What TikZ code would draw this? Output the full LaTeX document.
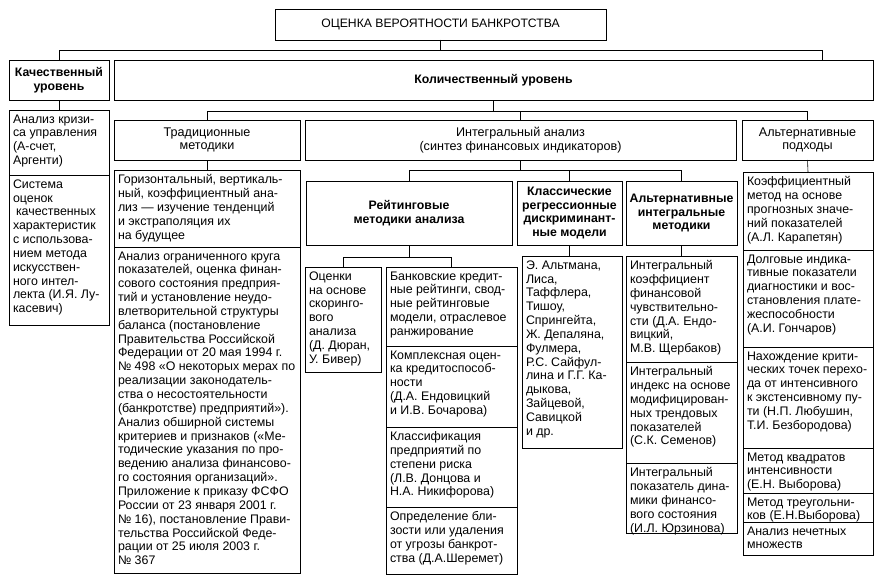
\documentclass[tikz,border=0pt]{standalone}
\usepackage{fontspec}
\setmainfont{Liberation Sans}
\usetikzlibrary{positioning}

% text of a cell: width and height of the cell in pt, text set from the top
\newcommand{\boxtext}[3]{\parbox[c][\dimexpr#2pt-9pt\relax][t]{\dimexpr#1pt-8pt\relax}{\raggedright #3}}

\begin{document}
\begin{tikzpicture}[
    x=1pt, y=-1pt,
    head/.style={draw, anchor=north west, align=center, inner sep=2pt, outer sep=0pt,
                 line width=0.8pt, font=\fontsize{12.6}{13.8}\selectfont},
    boldhead/.style={head, font=\fontsize{12.3}{13.8}\selectfont\bfseries},
    cell/.style={draw, anchor=north west, inner xsep=4pt, inner ysep=4.5pt, outer sep=0pt,
                 line width=0.8pt, font=\fontsize{12.4}{13.85}\selectfont},
    link/.style={draw, line width=0.6pt},
]
\useasboundingbox (0,0) rectangle (883,578);

% --- Top ---
\node[head, minimum width=331pt, minimum height=31pt, font=\fontsize{12.2}{13.7}\selectfont] (top) at (275,9)
  {ОЦЕНКА ВЕРОЯТНОСТИ БАНКРОТСТВА};

% --- Levels ---
\node[boldhead, minimum width=100pt, minimum height=40pt] (qual) at (9,60)
  {Качественный\\уровень};
\node[boldhead, minimum width=759pt, minimum height=40pt] (quant) at (114,60)
  {Количественный уровень};

% Qualitative level
\node[cell] (qual1) at (9,110)
  {\boxtext{100}{65}{Анализ кризи-\\са управления\\(А-счет,\\Аргенти)}};
\node[cell, below=0pt of qual1] (qual2)
  {\boxtext{100}{150}{Система\\оценок\\\hspace*{3pt}качественных\\характеристик\\с использова-\\нием метода\\искусствен-\\ного интел-\\лекта (И.Я. Лу-\\касевич)}};

% --- Quantitative level ---
\node[head, minimum width=186pt, minimum height=40pt] (trad) at (114,120)
  {Традиционные\\методики};
\node[head, minimum width=431pt, minimum height=40pt] (integ) at (305,120)
  {Интегральный анализ\\(синтез финансовых индикаторов)};
\node[head, minimum width=131pt, minimum height=40pt] (altapp) at (742,120)
  {Альтернативные\\подходы};

% Traditional methods
\node[cell] (trad1) at (114,170)
  {\boxtext{186}{77}{Горизонтальный, вертикаль-\\ный, коэффициентный ана-\\лиз — изучение тенденций\\и экстраполяция их\\на будущее}};
\node[cell, below=0pt of trad1] (trad2)
  {\boxtext{186}{326}{Анализ ограниченного круга\\показателей, оценка финан-\\сового состояния предприя-\\тий и установление неудо-\\влетворительной структуры\\баланса (постановление\\Правительства Российской\\Федерации от 20 мая 1994 г.\\№ 498 «О некоторых мерах по\\реализации законодатель-\\ства о несостоятельности\\(банкротстве) предприятий»).\\Анализ обширной системы\\критериев и признаков («Ме-\\тодические указания по про-\\ведению анализа финансово-\\го состояния организаций».\\Приложение к приказу ФСФО\\России от 23 января 2001 г.\\№ 16), постановление Прави-\\тельства Российской Феде-\\рации от 25 июля 2003 г.\\№ 367}};

% Integral analysis
\node[boldhead, minimum width=206pt, minimum height=64pt] (rating) at (306,181)
  {Рейтинговые\\методики анализа};
\node[boldhead, minimum width=105pt, minimum height=64pt] (classic) at (517,181)
  {Классические\\регрессионные\\дискриминант-\\ные модели};
\node[boldhead, minimum width=111pt, minimum height=64pt] (altint) at (626,181)
  {Альтернативные\\интегральные\\методики};

% Rating methods
\node[cell] (rate1) at (305,267)
  {\boxtext{76}{105}{Оценки\\на основе\\скоринго-\\вого\\анализа\\(Д. Дюран,\\У. Бивер)}};
\node[cell] (rate2) at (386,267)
  {\boxtext{131}{79}{Банковские кредит-\\ные рейтинги, свод-\\ные рейтинговые\\модели, отраслевое\\ранжирование}};
\node[cell, below=0pt of rate2] (rate3)
  {\boxtext{131}{81}{Комплексная оцен-\\ка кредитоспособ-\\ности\\(Д.А. Ендовицкий\\и И.В. Бочарова)}};
\node[cell, below=0pt of rate3] (rate4)
  {\boxtext{131}{80}{Классификация\\предприятий по\\степени риска\\(Л.В. Донцова и\\Н.А. Никифорова)}};
\node[cell, below=0pt of rate4] (rate5)
  {\boxtext{131}{67}{Определение бли-\\зости или удаления\\от угрозы банкрот-\\ства (Д.А.Шеремет)}};

% Discriminant models
\node[cell] (class1) at (522,256)
  {\boxtext{100}{192}{Э. Альтмана,\\Лиса,\\Таффлера,\\Тишоу,\\Спрингейта,\\Ж. Депаляна,\\Фулмера,\\Р.С. Сайфул-\\лина и Г.Г. Ка-\\дыкова,\\Зайцевой,\\Савицкой\\и др.}};

% Alternative integral methods
\node[cell] (altint1) at (626,256)
  {\boxtext{111}{106}{Интегральный\\коэффициент\\финансовой\\чувствительно-\\сти (Д.А. Ендо-\\вицкий,\\М.В. Щербаков)}};
\node[cell, below=0pt of altint1] (altint2)
  {\boxtext{111}{101}{Интегральный\\индекс на основе\\модифицирован-\\ных трендовых\\показателей\\(С.К. Семенов)}};
\node[cell, below=0pt of altint2] (altint3)
  {\boxtext{111}{70}{Интегральный\\показатель дина-\\мики финансо-\\вого состояния\\(И.Л. Юрзинова)}};

% Alternative approaches
\node[cell] (alt1) at (743,172)
  {\boxtext{130}{78}{Коэффициентный\\метод на основе\\прогнозных значе-\\ний показателей\\(А.Л. Карапетян)}};
\node[cell, below=0pt of alt1] (alt2)
  {\boxtext{130}{97}{Долговые индика-\\тивные показатели\\диагностики и вос-\\становления плате-\\жеспособности\\(А.И. Гончаров)}};
\node[cell, below=0pt of alt2] (alt3)
  {\boxtext{130}{101}{Нахождение крити-\\ческих точек перехо-\\да от интенсивного\\к экстенсивному пу-\\ти (Н.П. Любушин,\\Т.И. Безбородова)}};
\node[cell, below=0pt of alt3] (alt4)
  {\boxtext{130}{45}{Метод квадратов\\интенсивности\\(Е.Н. Выборова)}};
\node[cell, below=0pt of alt4] (alt5)
  {\boxtext{130}{29}{Метод треугольни-\\ков (Е.Н.Выборова)}};
\node[cell, below=0pt of alt5] (alt6)
  {\boxtext{130}{33}{Анализ нечетных\\множеств}};

% --- Connectors ---
\draw[link] (top.south) -- ++(0,10) -| (qual.north);
\draw[link] (top.south) -- ++(0,10) -| ([xshift=-51pt]quant.north east);
\draw[link] (qual.south) -- (qual1.north);
\draw[link] (quant.south) -- ++(0,11) -| (trad.north);
\draw[link] (quant.south) -- ++(0,11) -| (integ.north);
\draw[link] (quant.south) -- ++(0,11) -| (altapp.north);
\draw[link] (trad.south) -- (trad1.north);
\draw[link] (altapp.south) -- (alt1.north);
\draw[link] (integ.south) -- ++(0,10) -| (rating.north);
\draw[link] (integ.south) -- ++(0,10) -| (classic.north);
\draw[link] (integ.south) -- ++(0,10) -| (altint.north);
\draw[link] (rating.south) -- ++(0,12) -| (rate1.north);
\draw[link] (rating.south) -- ++(0,12) -| (rate2.north);
\draw[link] (classic.south) -- (classic.south |- class1.north);
\draw[link] (altint.south) -- (altint1.north);
\end{tikzpicture}
\end{document}
